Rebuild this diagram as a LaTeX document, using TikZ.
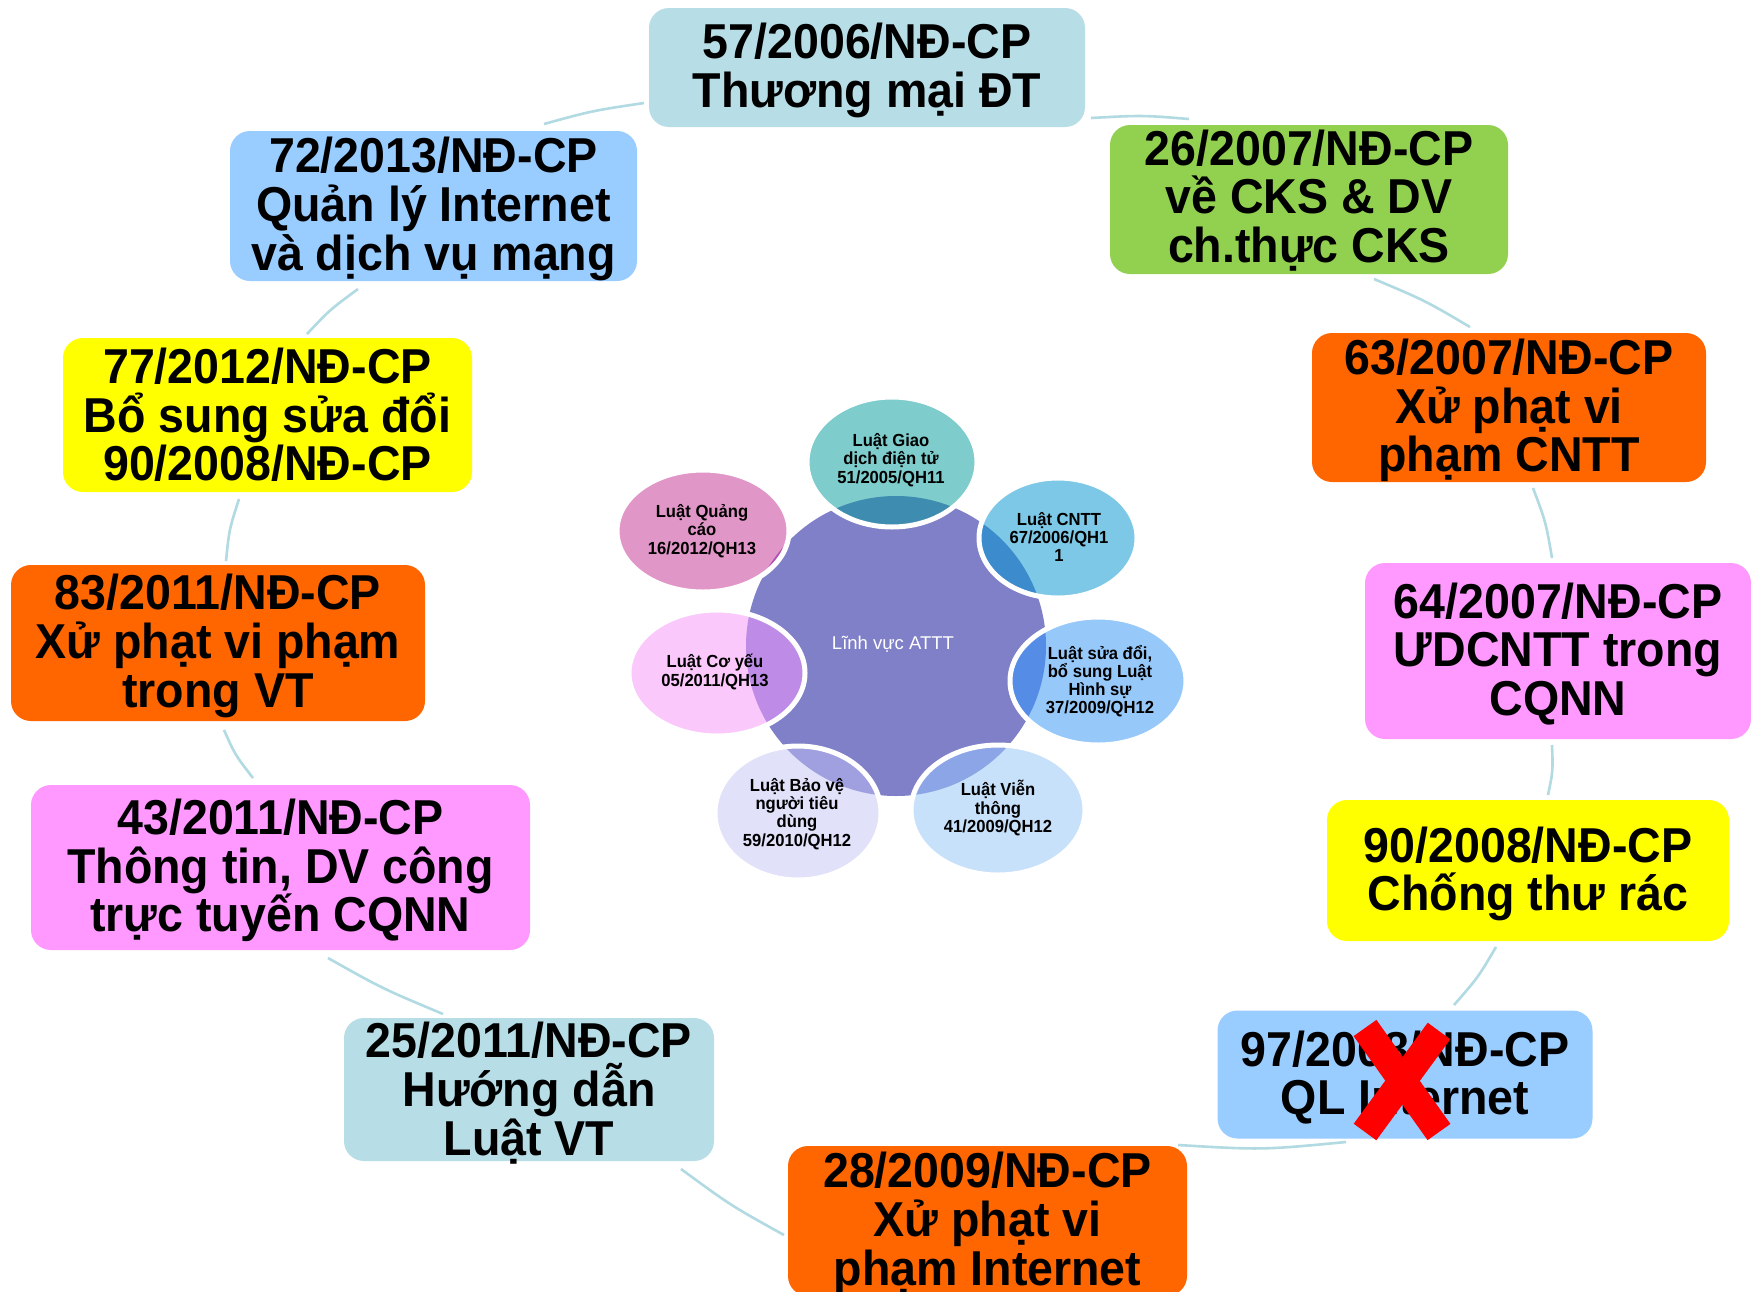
\documentclass[tikz,border=0pt]{standalone}
\usepackage{fontspec}
\setmainfont{Liberation Sans}
\newfontfamily\boxfont{Liberation Sans}[FakeStretch=0.95]
\usetikzlibrary{shapes.geometric}
\definecolor{cTeal}{RGB}{183,221,230}
\definecolor{cBlue}{RGB}{153,204,255}
\definecolor{cGreen}{RGB}{146,208,80}
\definecolor{cYellow}{RGB}{255,255,0}
\definecolor{cOrange}{RGB}{255,102,0}
\definecolor{cPink}{RGB}{255,153,255}
\definecolor{cLink}{RGB}{178,218,226}
\definecolor{cCenter}{RGB}{128,128,200}
\definecolor{bGiao}{RGB}{126,204,204}\definecolor{oGiao}{RGB}{62,140,175}
\definecolor{bCntt}{RGB}{125,200,230}\definecolor{oCntt}{RGB}{60,140,205}
\definecolor{bSua}{RGB}{150,200,250}\definecolor{oSua}{RGB}{85,140,230}
\definecolor{bVien}{RGB}{200,225,250}\definecolor{oVien}{RGB}{140,165,230}
\definecolor{bBao}{RGB}{225,225,250}\definecolor{oBao}{RGB}{160,160,225}
\definecolor{bCo}{RGB}{250,200,250}\definecolor{oCo}{RGB}{190,140,230}
\definecolor{bQuang}{RGB}{225,150,200}\definecolor{oQuang}{RGB}{175,80,180}
\tikzset{
  bigbox/.style={rounded corners=20pt, inner sep=0pt},
  boxtext/.style={align=center, inner sep=0pt, text=black,
    font=\boxfont\bfseries\fontsize{49}{48.7}\selectfont},
  lawtext/.style={align=center, inner sep=0pt, text=black,
    font=\boxfont\bfseries\fontsize{17.5}{18.2}\selectfont},
  link/.style={draw=cLink, line width=2.6pt},
  bubbleedge/.style={draw=white, line width=5pt},
  crossline/.style={draw=red, line width=28pt}
}
\begin{document}
\begin{tikzpicture}[x=1pt,y=-1pt]
\useasboundingbox (0,0) rectangle (1751,1291);
\fill[white] (0,0) rectangle (1751,1291);

% ---------- connectors (ring) ----------
\coordinate (k1a) at (544,124);  \coordinate (k1b) at (644,103);
\coordinate (k2a) at (1091,118); \coordinate (k2b) at (1189,119);
\coordinate (k3a) at (1374,279); \coordinate (k3b) at (1470,327);
\coordinate (k4a) at (1533,488); \coordinate (k4b) at (1552,558);
\coordinate (k5a) at (1552,745); \coordinate (k5b) at (1548,795);
\coordinate (k6a) at (1496,947); \coordinate (k6b) at (1454,1005);
\coordinate (k7a) at (1346,1142);\coordinate (k7b) at (1178,1145);
\coordinate (k8a) at (784,1235); \coordinate (k8b) at (681,1169);
\coordinate (k9a) at (443,1014); \coordinate (k9b) at (328,958);
\coordinate (k10a) at (253,778); \coordinate (k10b) at (224,730);
\coordinate (k11a) at (226,561); \coordinate (k11b) at (239,499);
\coordinate (k12a) at (307,334); \coordinate (k12b) at (358,289);
\draw[link] (k1a) .. controls (592,110.8) .. (k1b);
\draw[link] (k2a) .. controls (1142,115.2) .. (k2b);
\draw[link] (k3a) .. controls (1425,300.5) .. (k3b);
\draw[link] (k4a) .. controls (1545.8,522) .. (k4b);
\draw[link] (k5a) .. controls (1553,771) .. (k5b);
\draw[link] (k6a) .. controls (1478,977.5) .. (k6b);
\draw[link] (k7a) .. controls (1262,1150) .. (k7b);
\draw[link] (k8a) .. controls (730.8,1205.5) .. (k8b);
\draw[link] (k9a) .. controls (382.2,988.5) .. (k9b);
\draw[link] (k10a) .. controls (235.2,755) .. (k10b);
\draw[link] (k11a) .. controls (229.2,529.5) .. (k11b);
\draw[link] (k12a) .. controls (329.8,309.8) .. (k12b);

% ---------- boxes ----------
\node[bigbox, fill=cTeal, minimum width=436pt, minimum height=119pt] (b57) at (867,67.5) {};
\node[bigbox, fill=cBlue, minimum width=407pt, minimum height=150pt] (b72) at (433.5,206) {};
\node[bigbox, fill=cGreen, minimum width=398pt, minimum height=149pt] (b26) at (1309,199.5) {};
\node[bigbox, fill=cYellow, minimum width=409pt, minimum height=154pt] (b77) at (267.5,415) {};
\node[bigbox, fill=cOrange, minimum width=394pt, minimum height=149pt] (b63) at (1509,407.5) {};
\node[bigbox, fill=cOrange, minimum width=414pt, minimum height=156pt] (b83) at (218,643) {};
\node[bigbox, fill=cPink, minimum width=386pt, minimum height=176pt] (b64) at (1558,651) {};
\node[bigbox, fill=cPink, minimum width=499pt, minimum height=165pt] (b43) at (280.5,867.5) {};
\node[bigbox, fill=cYellow, minimum width=402pt, minimum height=141pt] (b90) at (1528,870.5) {};
\node[bigbox, fill=cBlue, minimum width=375pt, minimum height=128pt] (b97) at (1405,1074.5) {};
\node[bigbox, fill=cTeal, minimum width=370pt, minimum height=143pt] (b25) at (529,1089.5) {};
\node[bigbox, fill=cOrange, minimum width=399pt, minimum height=150pt] (b28) at (987.5,1221) {};

\node[boxtext] (t57) at ([yshift=-3pt]b57.center) {57/2006/NĐ-CP\\Thương mại ĐT};
\node[boxtext] (t72) at ([yshift=-3pt]b72.center) {72/2013/NĐ-CP\\Quản lý Internet\\và dịch vụ mạng};
\node[boxtext] (t26) at ([yshift=-1pt]b26.center) {26/2007/NĐ-CP\\về CKS \& DV\\ch.thực CKS};
\node[boxtext] (t77) at (b77.center) {77/2012/NĐ-CP\\Bổ sung sửa đổi\\90/2008/NĐ-CP};
\node[boxtext] (t63) at ([yshift=-3pt]b63.center) {63/2007/NĐ-CP\\Xử phạt vi\\phạm CNTT};
\node[boxtext] (t83) at ([yshift=-3pt]b83.center) {83/2011/NĐ-CP\\Xử phạt vi phạm\\trong VT};
\node[boxtext] (t64) at ([yshift=-3pt]b64.center) {64/2007/NĐ-CP\\ƯDCNTT trong\\CQNN};
\node[boxtext] (t43) at ([yshift=-3pt]b43.center) {43/2011/NĐ-CP\\Thông tin, DV công\\trực tuyến CQNN};
\node[boxtext] (t90) at ([yshift=-3.5pt]b90.center) {90/2008/NĐ-CP\\Chống thư rác};
\node[boxtext] (t97) at ([yshift=-3pt]b97.center) {97/2008/NĐ-CP\\QL Internet};
\node[boxtext] (t25) at ([yshift=-3.5pt]b25.center) {25/2011/NĐ-CP\\Hướng dẫn\\Luật VT};
\node[boxtext] (t28) at ([yshift=-3pt]b28.center) {28/2009/NĐ-CP\\Xử phạt vi\\phạm Internet};

% red cross over 97/2008
\coordinate (xtl) at (1365,1028); \coordinate (xbr) at (1439,1132);
\coordinate (xtr) at (1439,1031); \coordinate (xbl) at (1365,1132);
\draw[crossline] (xtl) -- (xbr);
\draw[crossline] (xtr) -- (xbl);

% ---------- central cluster ----------
\fill[cCenter] (896,646) circle [radius=150pt];
\fill[bGiao]  (892,462)  ellipse [x radius=85pt, y radius=65pt];
\fill[bCntt]  (1058,538) ellipse [x radius=79pt, y radius=60pt];
\fill[bSua]   (1098,681) ellipse [x radius=88pt, y radius=64pt];
\fill[bVien]  (998,810)  ellipse [x radius=87pt, y radius=65pt];
\fill[bBao]   (798,813)  ellipse [x radius=83pt, y radius=67pt];
\fill[bCo]    (717,673)  ellipse [x radius=88pt, y radius=63pt];
\fill[bQuang] (703,531)  ellipse [x radius=86pt, y radius=61pt];
\begin{scope}
\clip (896,646) circle [radius=150pt];
\fill[oGiao]  (892,462)  ellipse [x radius=85pt, y radius=65pt];
\fill[oCntt]  (1058,538) ellipse [x radius=79pt, y radius=60pt];
\fill[oSua]   (1098,681) ellipse [x radius=88pt, y radius=64pt];
\fill[oVien]  (998,810)  ellipse [x radius=87pt, y radius=65pt];
\fill[oBao]   (798,813)  ellipse [x radius=83pt, y radius=67pt];
\fill[oCo]    (717,673)  ellipse [x radius=88pt, y radius=63pt];
\fill[oQuang] (703,531)  ellipse [x radius=86pt, y radius=61pt];
\end{scope}
\draw[bubbleedge] (892,462)  ellipse [x radius=85pt, y radius=65pt];
\draw[bubbleedge] (1058,538) ellipse [x radius=79pt, y radius=60pt];
\draw[bubbleedge] (1098,681) ellipse [x radius=88pt, y radius=64pt];
\draw[bubbleedge] (998,810)  ellipse [x radius=87pt, y radius=65pt];
\draw[bubbleedge] (798,813)  ellipse [x radius=83pt, y radius=67pt];
\draw[bubbleedge] (717,673)  ellipse [x radius=88pt, y radius=63pt];
\draw[bubbleedge] (703,531)  ellipse [x radius=86pt, y radius=61pt];

\node[text=white, font=\fontsize{18.5}{20}\selectfont, inner sep=0pt] (attt) at (893,644) {Lĩnh vực ATTT};
\node[lawtext] (lGiao)  at (891,460)  {Luật Giao\\dịch điện tử\\51/2005/QH11};
\node[lawtext] (lCntt)  at (1059,537) {Luật CNTT\\67/2006/QH1\\1};
\node[lawtext] (lSua)   at (1100,681) {Luật sửa đổi,\\bổ sung Luật\\Hình sự\\37/2009/QH12};
\node[lawtext] (lVien)  at (998,808)  {Luật Viễn\\thông\\41/2009/QH12};
\node[lawtext] (lBao)   at (797,814)  {Luật Bảo vệ\\người tiêu\\dùng\\59/2010/QH12};
\node[lawtext] (lCo)    at (715,672)  {Luật Cơ yếu\\05/2011/QH13};
\node[lawtext] (lQuang) at (702,531)  {Luật Quảng\\cáo\\16/2012/QH13};
\end{tikzpicture}
\end{document}
